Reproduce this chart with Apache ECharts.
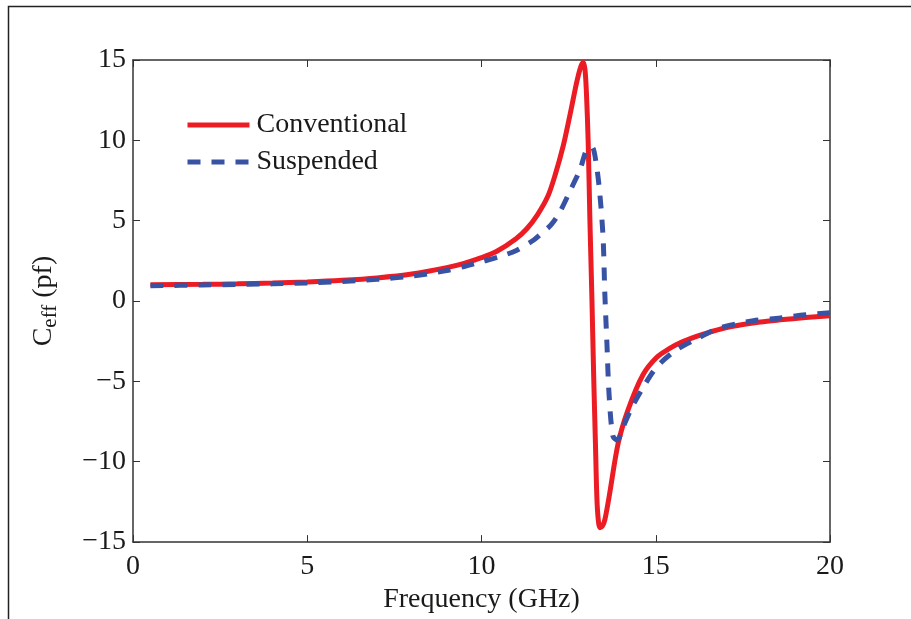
<!DOCTYPE html>
<html>
<head>
<meta charset="utf-8">
<script src="https://cdn.jsdelivr.net/npm/echarts@6/dist/echarts.min.js"></script>
<style>
html,body{margin:0;padding:0;background:#fff;}
#c{width:911px;height:619px;}
</style>
</head>
<body>
<div id="c"></div>
<script>
// Frequency (GHz) and C_eff (pf)
var freqConventional = [0.5, 2, 3, 4, 5, 6, 7, 8, 9, 9.5, 10, 10.44, 11, 11.3, 11.6, 11.9, 12.1, 12.35, 12.55, 12.73, 12.85, 12.92, 12.97, 13.01, 13.06, 13.11, 13.17, 13.22, 13.27, 13.31, 13.35, 13.4, 13.47, 13.54, 13.66, 13.92, 14.2, 14.63, 15.03, 15.4, 15.7, 16.17, 16.6, 17.13, 18, 18.57, 19.3, 20];
var capConventional = [1.02, 1.04, 1.07, 1.12, 1.19, 1.29, 1.44, 1.68, 2.08, 2.35, 2.7, 3.1, 3.9, 4.5, 5.35, 6.5, 7.75, 9.7, 11.7, 13.6, 14.6, 14.85, 14.4, 13.0, 10.0, 5.1, 0.0, -4.75, -8.9, -12.2, -13.6, -14.1, -14.0, -13.6, -12.2, -8.87, -6.8, -4.6, -3.5, -2.95, -2.6, -2.2, -1.9, -1.6, -1.3, -1.17, -1.03, -0.92];
var freqSuspended = [0.5, 2, 4, 5, 6, 7, 8, 9, 9.5, 10, 10.5, 11, 11.5, 11.77, 12, 12.25, 12.54, 12.83, 13.02, 13.17, 13.3, 13.4, 13.49, 13.54, 13.6, 13.66, 13.77, 13.9, 14.05, 14.32, 14.63, 15.03, 15.55, 16.13, 16.84, 17.8, 18.56, 19.3, 20];
var capSuspended = [0.95, 1.0, 1.07, 1.13, 1.22, 1.35, 1.55, 1.9, 2.15, 2.45, 2.75, 3.15, 3.8, 4.3, 4.75, 5.55, 6.85, 8.2, 9.44, 9.57, 8.41, 6.56, 3.9, 0.4, -2.7, -5.8, -8.4, -8.65, -7.9, -6.6, -5.4, -4.1, -3.1, -2.4, -1.67, -1.23, -1.05, -0.85, -0.72];
var xTicks = [0, 5, 10, 15, 20];
var yTicks = [-15, -10, -5, 0, 5, 10, 15];
var seriesNames = ['Conventional', 'Suspended'];

function pairs(xs, ys) { return xs.map(function (x, i) { return [x, ys[i]]; }); }
function fmt(v) { return v < 0 ? '\u2212' + Math.abs(v) : String(v); }

var FONT = '"Liberation Serif", "Times New Roman", serif';
var TXT = '#1a1a1a';
var AX = '#333333';

var chart = echarts.init(document.getElementById('c'), null, {renderer: 'canvas'});
var axisCommon = {
  axisLine: {show: true, onZero: false, lineStyle: {color: AX, width: 1.5}},
  axisTick: {show: true, inside: true, length: 7, lineStyle: {color: AX, width: 1}},
  splitLine: {show: false}
};
chart.setOption({
  backgroundColor: '#fff',
  animation: false,
  graphic: [{
    type: 'rect', left: 6, top: 4, shape: {width: 950, height: 700},
    style: {fill: 'none', stroke: '#222', lineWidth: 1.5}, silent: true
  }],
  grid: {left: 133, right: 81, top: 60, bottom: 73, containLabel: false},
  legend: {
    orient: 'vertical', left: 185, top: 110, padding: 0, itemWidth: 62, itemHeight: 14, itemGap: 7,
    data: seriesNames,
    itemStyle: {opacity: 0},
    lineStyle: {width: 5},
    textStyle: {fontFamily: FONT, fontSize: 28, color: TXT, lineHeight: 30, padding: [0, 0, 0, 2]}
  },
  xAxis: [Object.assign({}, axisCommon, {
    type: 'value', min: xTicks[0], max: xTicks[xTicks.length - 1], interval: 5, position: 'bottom',
    name: 'Frequency (GHz)', nameLocation: 'middle', nameGap: 42,
    nameTextStyle: {fontFamily: FONT, fontSize: 28, color: TXT},
    axisLabel: {fontFamily: FONT, fontSize: 28, color: TXT, margin: 11, formatter: fmt}
  }), Object.assign({}, axisCommon, {
    type: 'value', min: xTicks[0], max: xTicks[xTicks.length - 1], interval: 5, position: 'top',
    axisLabel: {show: false}
  })],
  yAxis: [Object.assign({}, axisCommon, {
    type: 'value', min: yTicks[0], max: yTicks[yTicks.length - 1], interval: 5, position: 'left',
    name: '{a|C}{b|eff}{a| (pf)}', nameLocation: 'middle', nameGap: 72, nameRotate: 90,
    nameTextStyle: {
      fontFamily: FONT, color: TXT,
      rich: {
        a: {fontFamily: FONT, fontSize: 28, color: TXT, lineHeight: 34, verticalAlign: 'middle'},
        b: {fontFamily: FONT, fontSize: 21, color: TXT, lineHeight: 34, verticalAlign: 'bottom', padding: [14, 0, 0, 0]}
      }
    },
    axisLabel: {fontFamily: FONT, fontSize: 28, color: TXT, margin: 7, formatter: fmt}
  }), Object.assign({}, axisCommon, {
    type: 'value', min: yTicks[0], max: yTicks[yTicks.length - 1], interval: 5, position: 'right',
    axisLabel: {show: false}
  })],
  series: [{
    name: seriesNames[0], type: 'line', data: pairs(freqConventional, capConventional),
    showSymbol: false, symbol: 'none', smooth: 0.3, clip: true,
    lineStyle: {color: '#ec1c24', width: 5}, itemStyle: {color: '#ec1c24'}, z: 2
  }, {
    name: seriesNames[1], type: 'line', data: pairs(freqSuspended, capSuspended),
    showSymbol: false, symbol: 'none', smooth: 0.3, clip: true,
    lineStyle: {color: '#3953a4', width: 5, type: [13, 11], cap: 'butt'}, itemStyle: {color: '#3953a4'}, z: 3
  }]
});
</script>
</body>
</html>
